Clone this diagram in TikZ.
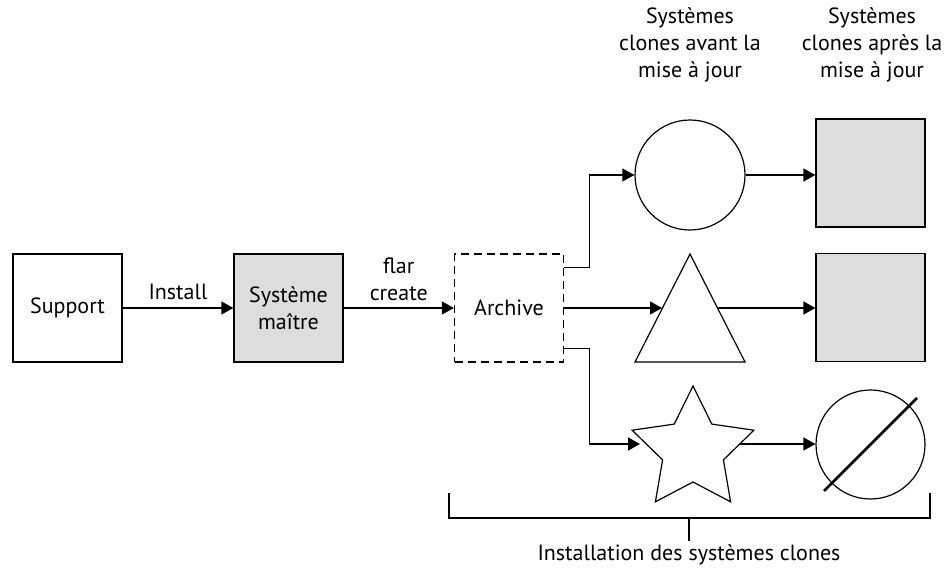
\documentclass[tikz,border=0pt]{standalone}
\usepackage{fontspec}
\setmainfont{PT Sans}
\usetikzlibrary{arrows.meta,calc}
\definecolor{boxgray}{HTML}{DDDDDD}
\begin{document}
\begin{tikzpicture}[x=1pt,y=-1pt,
  line width=1.2pt,
  every node/.style={font=\fontsize{22}{27}\selectfont},
  box/.style={draw, rectangle, minimum width=109pt, minimum height=108pt, inner sep=0pt},
  graybox/.style={box, fill=boxgray},
  dashbox/.style={box, dash pattern=on 8pt off 5pt},
  ring/.style={draw, circle, minimum size=110pt, inner sep=0pt},
  arr/.style={-{Triangle[length=12pt,width=13pt]}},
  lbl/.style={align=center, inner sep=0pt}
]
\useasboundingbox (0,0) rectangle (947,570);

% left chain
\node[box] (sup) at (67.5,308) {Support};
\node[graybox, align=center] (sm) at (288.5,308) {Système\\maître};
\node[dashbox] (arch) at (509,308) {Archive};

\draw[arr] (sup) -- node[lbl, above=8pt] (linstall) {Install} (sm);
\draw[arr] (sm) -- node[lbl, above=7pt] (lflar) {flar\\create} (arch);

% clone shapes before update
\node[ring] (c1) at (690,175) {};

\coordinate (triTop) at (690,254);
\coordinate (triBR) at (745,362);
\coordinate (triBL) at (635,362);
\draw (triTop) -- (triBR) -- (triBL) -- cycle;
\coordinate (triL) at (662,308);
\coordinate (triR) at (718,308);

\coordinate (star) at (693,450);
\draw (693,386) -- (711.8,424.1) -- (753.9,430.2) -- (723.4,459.9) -- (730.6,501.8)
  -- (693,482) -- (655.4,501.8) -- (662.6,459.9) -- (632.1,430.2) -- (674.2,424.1) -- cycle;
\coordinate (starL) at (640,444);
\coordinate (starR) at (739.7,444);

% clone shapes after update
\node[graybox] (sq1) at (870.5,173) {};
\node[graybox] (sq2) at (870.5,307.5) {};
\node[draw, circle, minimum size=109pt, inner sep=0pt] (cc) at (870.5,444.5) {};
\draw[line width=2.6pt] (cc.center) +(-46.5,46.5) -- +(46.5,-46.5);

% branches from archive
\draw[arr] ([yshift=40.5pt]arch.east) -- ++(25,0) |- (c1);
\draw[arr] (arch.east) -- (triL);
\draw[arr] ([yshift=-40.5pt]arch.east) -- ++(25,0) |- (starL);

% update arrows
\draw[arr] (c1.east) -- (c1.east -| sq1.west);
\draw[arr] (triR) -- (triR -| sq2.west);
\draw[arr] (starR) -- (starR -| cc.west);

% column headings
\node[lbl] (h1) at (690,45) {Systèmes\\clones avant la\\mise à jour};
\node[lbl] (h2) at (872,45) {Systèmes\\clones après la\\mise à jour};

% bracket
\coordinate (bl) at (449,493);
\coordinate (br) at (930,493);
\coordinate (bm) at (689,518);
\coordinate (bt) at (689,541);
\draw (bl) |- (bm) -| (br);
\draw (bm) -- (bt);
\node[lbl, anchor=north] (binst) at ([yshift=-3pt]bt) {Installation des systèmes clones};
\end{tikzpicture}
\end{document}
